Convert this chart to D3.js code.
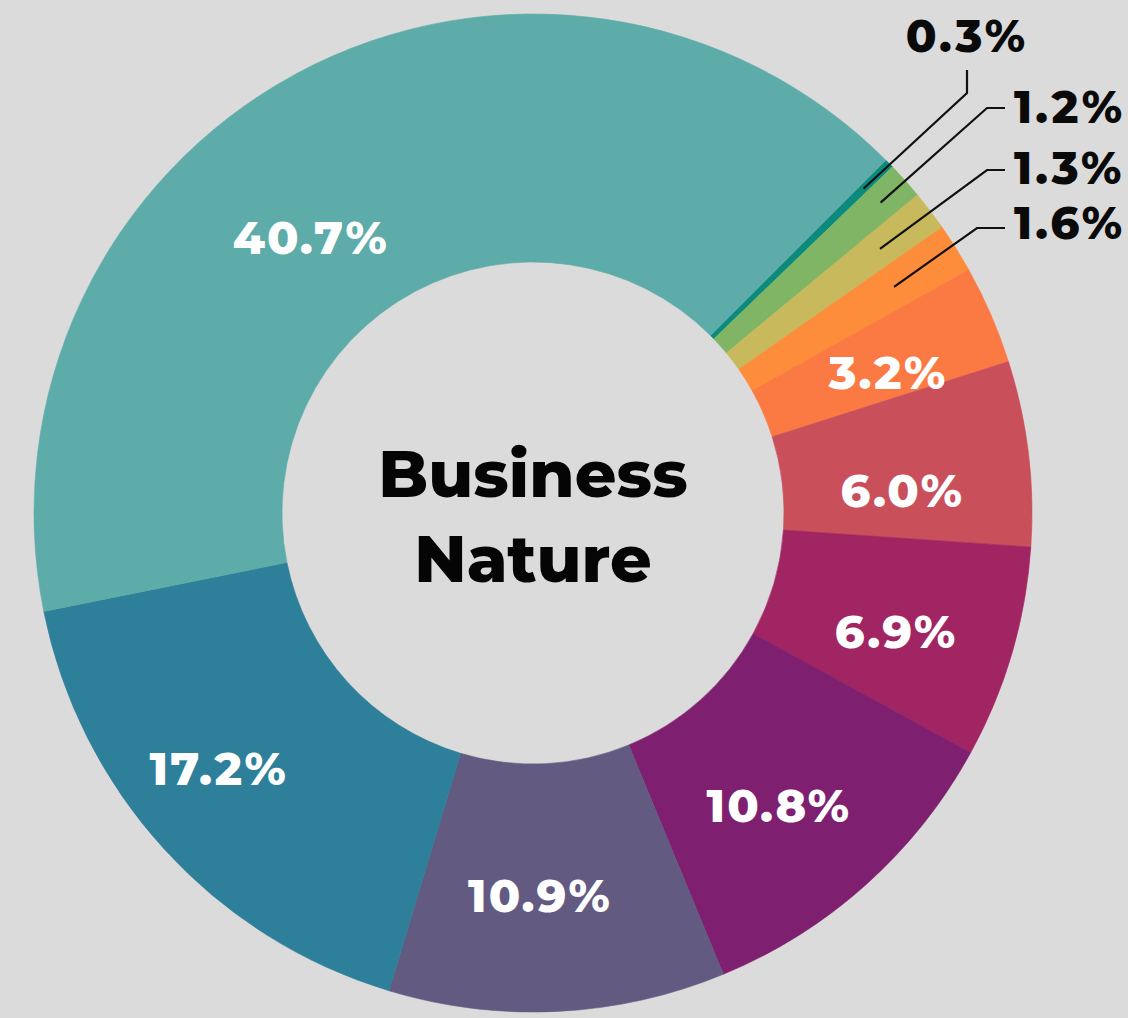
<!DOCTYPE html>
<html><head><meta charset="utf-8">
<script src="https://cdn.jsdelivr.net/npm/d3@7"></script>
<style>html,body{margin:0;padding:0;background:#dbdbdb;overflow:hidden}</style>
</head><body>
<svg id="chart" width="1128" height="1018"></svg>
<script>
// ---- data ----
const labels = ["0.3%", "1.2%", "1.3%", "1.6%", "3.2%", "6.0%", "6.9%", "10.8%", "10.9%", "17.2%", "40.7%"];
const values = [0.3, 1.2, 1.3, 1.6, 3.2, 6.0, 6.9, 10.8, 10.9, 17.2, 40.7];
const colors = ["#0b8a7e", "#80b566", "#c9b95d", "#fd8d3a", "#fb7a43", "#c94f5b", "#a12562", "#7e206f", "#635a82", "#2d7f9a", "#5eaca9"];
const centerTitle = ["Business", "Nature"];

// ---- layout ----
const W = 1128, H = 1018;
const cx = 533, cy = 513, R = 499, r0 = 251;
const deg = Math.PI / 180;
const svg = d3.select("#chart");
svg.append("rect").attr("width", W).attr("height", H).attr("fill", "#dbdbdb");
const g = svg.append("g").attr("transform", `translate(${cx},${cy})`);

const data = labels.map((l, i) => ({label: l, value: values[i], color: colors[i]}));
const pie = d3.pie().value(d => d.value).sort(null).startAngle(45 * deg).endAngle(405 * deg);
const arcs = pie(data);
const arc = d3.arc().innerRadius(r0).outerRadius(R);

g.selectAll("path.slice").data(arcs).join("path")
  .attr("class", "slice")
  .attr("d", arc)
  .attr("fill", d => d.data.color)
  .attr("stroke", d => d.data.color).attr("stroke-width", 0.6);

const font = "Montserrat, Inter, 'Open Sans', sans-serif";
const mid = d => (d.startAngle + d.endAngle) / 2;

// inside labels (value >= 3)
const tweak = {"40.7%": {a: -10.7, r: 354}, "17.2%": {a: 3.2, r: 405}, "6.0%": {a: 3.4, r: 370}};
const inside = arcs.filter(d => d.data.value >= 3);
g.selectAll("text.in").data(inside).join("text")
  .attr("class", "in")
  .attr("transform", d => {
    const t = tweak[d.data.label] || {a: 1.8, r: 382};
    const [x, y] = d3.pointRadial(mid(d) + t.a * deg, t.r);
    return `translate(${x},${y})`;
  })
  .attr("text-anchor", "middle")
  .attr("dy", "0.36em")
  .attr("fill", "#ffffff")
  .attr("font-family", font)
  .attr("font-weight", 800)
  .attr("font-size", 46)
  .attr("letter-spacing", 2)
  .text(d => d.data.label);

// outside labels with leader lines (value < 3)
const outPos = {
  "0.3%": {r: 463, pts: [[967, 93], [967, 70]], tx: 967, ty: 52, anchor: "middle"},
  "1.2%": {r: 466, pts: [[987, 108], [1005, 108]], tx: 1014, ty: 123, anchor: "start"},
  "1.3%": {r: 436, pts: [[987, 170], [1005, 170]], tx: 1014, ty: 184, anchor: "start"},
  "1.6%": {r: 426, pts: [[977, 228], [1005, 228]], tx: 1014, ty: 239, anchor: "start"}
};
const outside = arcs.filter(d => d.data.value < 3);
const line = d3.line();
svg.selectAll("path.leader").data(outside).join("path")
  .attr("class", "leader")
  .attr("d", d => {
    const p = outPos[d.data.label];
    const [x, y] = d3.pointRadial(mid(d), p.r);
    return line([[cx + x, cy + y], ...p.pts]);
  })
  .attr("fill", "none").attr("stroke", "#111").attr("stroke-width", 2.2);
svg.selectAll("text.out").data(outside).join("text")
  .attr("class", "out")
  .attr("x", d => outPos[d.data.label].tx)
  .attr("y", d => outPos[d.data.label].ty)
  .attr("text-anchor", d => outPos[d.data.label].anchor)
  .attr("fill", "#0a0a0a")
  .attr("font-family", font)
  .attr("font-weight", 800)
  .attr("font-size", 45)
  .attr("letter-spacing", 3)
  .text(d => d.data.label);

// center title
g.selectAll("text.title").data(centerTitle).join("text")
  .attr("class", "title")
  .attr("x", 0)
  .attr("y", (d, i) => i === 0 ? -16 : 69)
  .attr("text-anchor", "middle")
  .attr("fill", "#050505")
  .attr("font-family", font)
  .attr("font-weight", 800)
  .attr("font-size", 65)
  .text(d => d);
</script>
</body></html>
